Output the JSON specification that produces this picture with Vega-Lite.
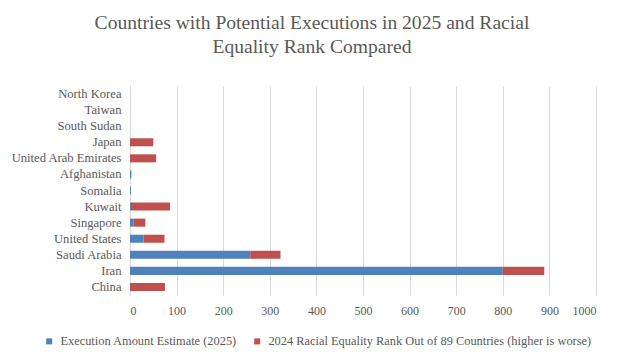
{
  "$schema": "https://vega.github.io/schema/vega-lite/v6.json",
  "width": 466,
  "height": 209,
  "autosize": "none",
  "padding": {"left": 130, "top": 86, "right": 29, "bottom": 61},
  "background": "white",
  "title": {
    "text": ["Countries with Potential Executions in 2025 and Racial", "Equality Rank Compared"],
    "anchor": "middle",
    "frame": "group",
    "dx": -51,
    "offset": 28,
    "font": "Liberation Serif",
    "fontSize": 19.6,
    "fontWeight": "normal",
    "color": "#595959",
    "lineHeight": 24
  },
  "data": {
    "values": [
      {"country": "North Korea", "series": "Execution Amount Estimate (2025)", "value": 0, "o": 1},
      {"country": "Taiwan", "series": "Execution Amount Estimate (2025)", "value": 0, "o": 1},
      {"country": "South Sudan", "series": "Execution Amount Estimate (2025)", "value": 0, "o": 1},
      {"country": "Japan", "series": "Execution Amount Estimate (2025)", "value": 0, "o": 1},
      {"country": "Japan", "series": "2024 Racial Equality Rank Out of 89 Countries (higher is worse)", "value": 50, "o": 2},
      {"country": "United Arab Emirates", "series": "Execution Amount Estimate (2025)", "value": 0, "o": 1},
      {"country": "United Arab Emirates", "series": "2024 Racial Equality Rank Out of 89 Countries (higher is worse)", "value": 56, "o": 2},
      {"country": "Afghanistan", "series": "Execution Amount Estimate (2025)", "value": 3, "o": 1},
      {"country": "Somalia", "series": "Execution Amount Estimate (2025)", "value": 2, "o": 1},
      {"country": "Kuwait", "series": "Execution Amount Estimate (2025)", "value": 2, "o": 1},
      {"country": "Kuwait", "series": "2024 Racial Equality Rank Out of 89 Countries (higher is worse)", "value": 84, "o": 2},
      {"country": "Singapore", "series": "Execution Amount Estimate (2025)", "value": 8, "o": 1},
      {"country": "Singapore", "series": "2024 Racial Equality Rank Out of 89 Countries (higher is worse)", "value": 25, "o": 2},
      {"country": "United States", "series": "Execution Amount Estimate (2025)", "value": 29, "o": 1},
      {"country": "United States", "series": "2024 Racial Equality Rank Out of 89 Countries (higher is worse)", "value": 45, "o": 2},
      {"country": "Saudi Arabia", "series": "Execution Amount Estimate (2025)", "value": 258, "o": 1},
      {"country": "Saudi Arabia", "series": "2024 Racial Equality Rank Out of 89 Countries (higher is worse)", "value": 65, "o": 2},
      {"country": "Iran", "series": "Execution Amount Estimate (2025)", "value": 800, "o": 1},
      {"country": "Iran", "series": "2024 Racial Equality Rank Out of 89 Countries (higher is worse)", "value": 89, "o": 2},
      {"country": "China", "series": "Execution Amount Estimate (2025)", "value": 0, "o": 1},
      {"country": "China", "series": "2024 Racial Equality Rank Out of 89 Countries (higher is worse)", "value": 75, "o": 2}
    ]
  },
  "mark": {"type": "bar"},
  "encoding": {
    "y": {
      "field": "country",
      "type": "nominal",
      "sort": ["North Korea", "Taiwan", "South Sudan", "Japan", "United Arab Emirates", "Afghanistan", "Somalia", "Kuwait", "Singapore", "United States", "Saudi Arabia", "Iran", "China"],
      "scale": {"paddingInner": 0.5, "paddingOuter": 0.25},
      "axis": {
        "title": null,
        "ticks": false,
        "domain": true,
        "domainColor": "#d9d9d9",
        "labelPadding": 9,
        "labelFont": "Liberation Serif",
        "labelFontSize": 12.6,
        "labelColor": "#595959",
        "grid": false
      }
    },
    "x": {
      "field": "value",
      "type": "quantitative",
      "stack": "zero",
      "scale": {"domain": [0, 1000], "nice": false},
      "axis": {
        "title": null,
        "values": [0, 100, 200, 300, 400, 500, 600, 700, 800, 900, 1000],
        "format": "d",
        "ticks": false,
        "domain": false,
        "grid": true,
        "gridColor": "#d9d9d9",
        "labelPadding": 10,
        "labelFont": "Liberation Serif",
        "labelFontSize": 12,
        "labelColor": "#595959"
      }
    },
    "color": {
      "field": "series",
      "type": "nominal",
      "sort": ["Execution Amount Estimate (2025)", "2024 Racial Equality Rank Out of 89 Countries (higher is worse)"],
      "scale": {"range": ["#4f81bd", "#c0504d"]},
      "legend": {
        "title": null,
        "orient": "none",
        "direction": "horizontal",
        "legendX": -87,
        "legendY": 249,
        "symbolType": "square",
        "symbolSize": 36,
        "labelFont": "Liberation Serif",
        "labelFontSize": 12.4,
        "labelColor": "#595959",
        "labelOffset": 5,
        "columnPadding": 14,
        "symbolStrokeWidth": 0,
        "labelLimit": 400
      }
    },
    "order": {"field": "o", "type": "quantitative"}
  },
  "config": {"view": {"stroke": null}}
}
